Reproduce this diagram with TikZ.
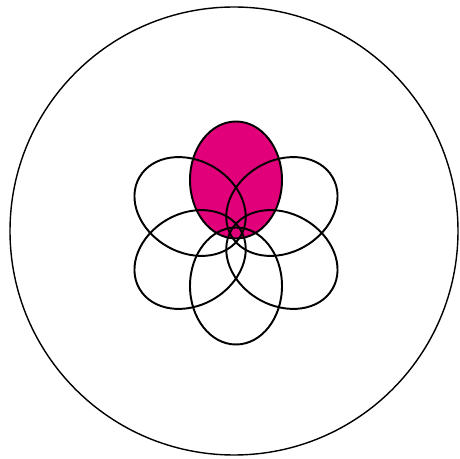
\documentclass[tikz,border=0pt]{standalone}
\usepackage{xcolor}
\usepackage{tikz}

\definecolor{petalpink}{RGB}{226,0,122}

\begin{document}
\begin{tikzpicture}[
    ring/.style={draw=black, line width=0.8pt},
    petal/.style={draw=black, line width=1.1pt},
    bloom/.style={shift={(0.04,-0.04)}}
]
\useasboundingbox (-4.68,-4.56) rectangle (4.50,4.62);

% outer circle
\draw[ring] (0,0) circle (4.48);

% filled top petal
\fill[petalpink, bloom, rotate=90] (1.06,0) ellipse (1.17 and 0.92);

% petal outlines
\foreach \ang in {90,30,-30,-90,-150,150} {
    \draw[petal, bloom, rotate=\ang] (1.06,0) ellipse (1.17 and 0.92);
}

\end{tikzpicture}
\end{document}
